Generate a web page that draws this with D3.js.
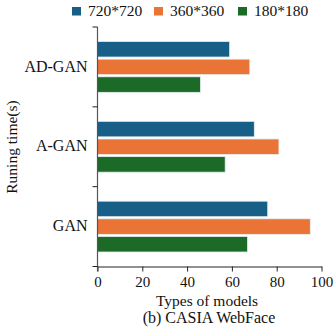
<!DOCTYPE html>
<html>
<head>
<meta charset="utf-8">
<script src="https://cdn.jsdelivr.net/npm/d3@7"></script>
<style>
  body { margin: 0; background: #fff; }
  text { font-family: "Liberation Serif", "Times New Roman", serif; fill: #111; }
</style>
</head>
<body>
<svg id="chart"></svg>
<script>
var models = ["AD-GAN", "A-GAN", "GAN"]
var sizes = ["720*720", "360*360", "180*180"]
var values = {
    "720*720": [59, 70, 76],
    "360*360": [68, 81, 95],
    "180*180": [46, 57, 67]
}
var colors = ["#175f86", "#e97435", "#1b6a27"]
var xTicks = [0, 20, 40, 60, 80, 100]

var dimensions = {
    width: 336,
    height: 330,
    margin: { top: 27, bottom: 63.5, right: 14, left: 97.5 }
}

var svg = d3.select("#chart")
            .attr("width", dimensions.width)
            .attr("height", dimensions.height)

var xScale = d3.scaleLinear()
               .domain([0, 100])
               .range([dimensions.margin.left, dimensions.margin.left + 224])

var yScale = d3.scaleBand()
               .domain(models)
               .range([dimensions.margin.top, dimensions.height - dimensions.margin.bottom])

var inner = d3.scaleBand()
              .domain(sizes)
              .range([14.5, yScale.bandwidth() - 14.5])
              .paddingInner(0.12)

var table = []
models.forEach((m, i) => {
    sizes.forEach((s, j) => table.push({ model: m, size: s, value: values[s][i], color: colors[j] }))
})

svg.append("g")
   .selectAll("rect")
   .data(table)
   .enter()
   .append("rect")
   .attr("x", xScale(0))
   .attr("y", d => yScale(d.model) + inner(d.size))
   .attr("width", d => xScale(d.value) - xScale(0))
   .attr("height", inner.bandwidth())
   .style("fill", d => d.color)
   .style("stroke", "#e8eef0")
   .style("stroke-width", 0.8)

// x axis
var xAxis = svg.append("g")
               .attr("transform", `translate(0,${dimensions.height - dimensions.margin.bottom})`)
               .call(d3.axisBottom(xScale).tickValues(xTicks).tickSize(5).tickSizeOuter(0))
xAxis.select(".domain").attr("stroke", "#222")
xAxis.selectAll("line").attr("stroke", "#222")
xAxis.selectAll("text").style("font-size", "15px").attr("y", 7).attr("dy", "0.9em")

// y axis with ticks on band boundaries
var yAxis = svg.append("g")
               .attr("transform", `translate(${dimensions.margin.left},0)`)
yAxis.append("line")
     .attr("y1", yScale.range()[0]).attr("y2", yScale.range()[1] + 5)
     .attr("stroke", "#555").attr("stroke-width", 1.2)
var bounds = models.map(m => yScale(m)).concat([yScale.range()[1]])
yAxis.selectAll(".tk")
     .data(bounds)
     .enter()
     .append("line")
     .attr("x1", -5).attr("x2", 0)
     .attr("y1", d => d).attr("y2", d => d)
     .attr("stroke", "#222")
yAxis.selectAll(".lbl")
     .data(models)
     .enter()
     .append("text")
     .attr("x", -10)
     .attr("y", d => yScale(d) + yScale.bandwidth() / 2 - 0.5)
     .attr("dy", "0.32em")
     .attr("text-anchor", "end")
     .style("font-size", "16px")
     .text(d => d)

svg.append("text")
   .attr("transform", "translate(16.5,147) rotate(-90)")
   .attr("text-anchor", "middle")
   .style("font-size", "15.5px")
   .text("Runing time(s)")

svg.append("text")
   .attr("x", 207).attr("y", 306)
   .attr("text-anchor", "middle")
   .style("font-size", "15.5px")
   .text("Types of models")

svg.append("text")
   .attr("x", 209).attr("y", 323)
   .attr("text-anchor", "middle")
   .style("font-size", "16px")
   .text("(b) CASIA WebFace")

// legend
var legendX = [72, 154, 238]
var legend = svg.append("g")
                .selectAll("g")
                .data(sizes)
                .enter()
                .append("g")
                .attr("transform", (d, i) => `translate(${legendX[i]},7)`)
legend.append("rect")
      .attr("width", 9).attr("height", 8.5)
      .style("fill", (d, i) => colors[i])
legend.append("text")
      .attr("x", 16).attr("y", 8.7)
      .style("font-size", "15.5px")
      .text(d => d)
</script>
</body>
</html>
